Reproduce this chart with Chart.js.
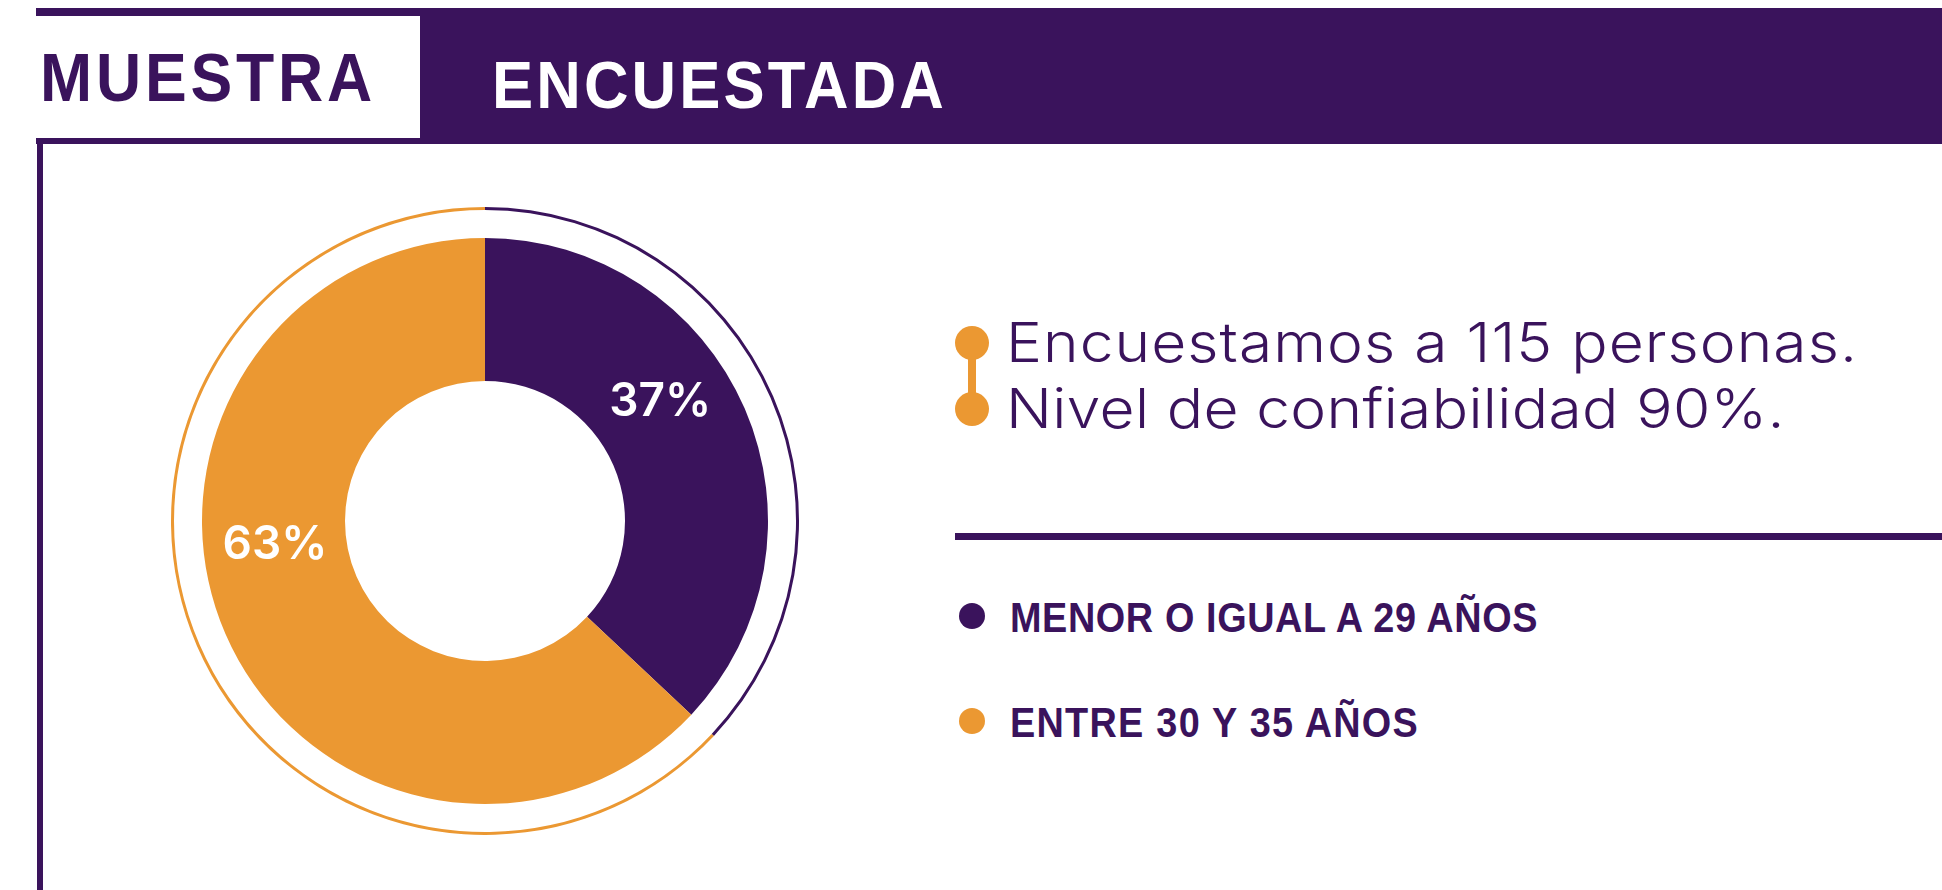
<!DOCTYPE html>
<html lang="es">
<head>
<meta charset="utf-8">
<title>Muestra encuestada</title>
<script src="https://cdn.jsdelivr.net/npm/chart.js@4.4.1/dist/chart.umd.min.js"></script>
<style>
html, body { margin: 0; padding: 0; background: #fff; }
body { width: 1942px; height: 890px; position: relative; overflow: hidden; }
.bar { position: absolute; background: #3a135c; }
.txt { position: absolute; white-space: nowrap; line-height: normal; color: #3a135c; transform-origin: 0 0; }
.head { font-family: "Liberation Sans", Arial, sans-serif; font-weight: 700; }
.body { font-family: Inter, "Noto Sans", sans-serif; font-weight: 300; font-size: 55px; }
.leg { font-family: "Liberation Sans", Arial, sans-serif; font-weight: 700; font-size: 42px; }
.dot { position: absolute; border-radius: 50%; }
#donut { position: absolute; left: 171px; top: 207px; }
</style>
</head>
<body>

<!-- marco -->
<div class="bar" style="left:36px;top:8px;width:1906px;height:8px"></div>
<div class="bar" style="left:420px;top:8px;width:1522px;height:136px"></div>
<div class="bar" style="left:36px;top:138px;width:390px;height:6px"></div>
<div class="bar" style="left:37px;top:138px;width:6px;height:752px"></div>
<div class="bar" style="left:955px;top:533px;width:987px;height:7px"></div>

<div class="txt head" style="font-size:68px" data-x="40" data-base="101" data-w="336" data-sx="0.92">MUESTRA</div>
<div class="txt head" style="font-size:67px;color:#fff" data-x="492" data-base="108" data-w="455" data-sx="0.92">ENCUESTADA</div>

<!-- conector naranja -->
<div class="bar" style="left:968px;top:343px;width:8px;height:66px;background:#eb9832"></div>
<div class="dot" style="left:955px;top:326px;width:34px;height:34px;background:#eb9832"></div>
<div class="dot" style="left:955px;top:392px;width:34px;height:34px;background:#eb9832"></div>

<div class="txt body" data-x="1006" data-base="362" data-w="852" data-sx="1.1">Encuestamos a 115 personas.</div>
<div class="txt body" data-x="1006" data-base="428" data-w="779" data-sx="1.1">Nivel de confiabilidad 90%.</div>

<canvas id="donut" width="628" height="628"></canvas>

<script>
const categories = ['MENOR O IGUAL A 29 AÑOS', 'ENTRE 30 Y 35 AÑOS'];
const shares = [37, 63];
const colors = ['#3a135c', '#eb9832'];

// leyenda
const legendBase = [632, 737];
const legendWidth = [528, 409];
categories.forEach((c, i) => {
  const d = document.createElement('div');
  d.className = 'dot';
  d.style.cssText = `left:959px;top:${legendBase[i] - 29}px;width:26px;height:26px;background:${colors[i]}`;
  document.body.appendChild(d);
  const t = document.createElement('div');
  t.className = 'txt leg';
  t.textContent = c;
  t.dataset.x = 1010;
  t.dataset.base = legendBase[i];
  t.dataset.w = legendWidth[i];
  t.dataset.sx = 0.9;
  document.body.appendChild(t);
});

// coloca el texto por su linea base y ajusta el ancho
function placeText() {
  document.querySelectorAll('.txt').forEach(el => {
    const n = el.textContent.length;
    const sx = +el.dataset.sx || 1;
    const w0 = el.getBoundingClientRect().width;
    el.style.letterSpacing = ((+el.dataset.w / sx - w0) / n) + 'px';
    el.style.transform = `scaleX(${sx})`;
    const m = document.createElement('i');
    m.style.cssText = 'display:inline-block;width:0;height:0;vertical-align:baseline';
    el.appendChild(m);
    const off = m.offsetTop;
    el.style.left = el.dataset.x + 'px';
    el.style.top = (+el.dataset.base - off) + 'px';
  });
}

const pctLabels = {
  id: 'pctLabels',
  afterDatasetsDraw(chart, args, opts) {
    const meta = chart.getDatasetMeta(opts.dataset);
    const total = shares.reduce((a, b) => a + b, 0);
    const ctx = chart.ctx;
    ctx.save();
    ctx.fillStyle = opts.color;
    ctx.font = opts.font;
    ctx.textAlign = 'center';
    ctx.textBaseline = 'middle';
    meta.data.forEach((arc, i) => {
      const p = arc.getProps(['x', 'y', 'startAngle', 'endAngle', 'innerRadius', 'outerRadius'], true);
      const a = p.startAngle + (p.endAngle - p.startAngle) * opts.anchor[i];
      const r = (p.innerRadius + p.outerRadius) / 2;
      ctx.fillText(Math.round(shares[i] / total * 100) + '%', p.x + r * Math.cos(a), p.y + r * Math.sin(a));
    });
    ctx.restore();
  }
};

const ring = { borderWidth: 0, hoverBorderWidth: 0, hoverOffset: 0 };

const config = {
  type: 'doughnut',
  data: {
    labels: categories,
    datasets: [
      { ...ring, data: shares, backgroundColor: colors, weight: 3 },
      { ...ring, data: shares, backgroundColor: 'rgba(0,0,0,0)', weight: 28 },
      { ...ring, data: shares, backgroundColor: colors, weight: 143 }
    ]
  },
  options: {
    responsive: false,
    animation: false,
    events: [],
    cutout: 140,
    layout: { padding: 0 },
    plugins: {
      legend: { display: false },
      tooltip: { enabled: false },
      pctLabels: { dataset: 2, anchor: [0.42, 0.574], color: '#fff', font: '600 46px Inter, "Noto Sans", sans-serif' }
    }
  },
  plugins: [pctLabels]
};

document.fonts.ready.then(() => {
  placeText();
  new Chart(document.getElementById('donut'), config);
});
</script>
</body>
</html>
